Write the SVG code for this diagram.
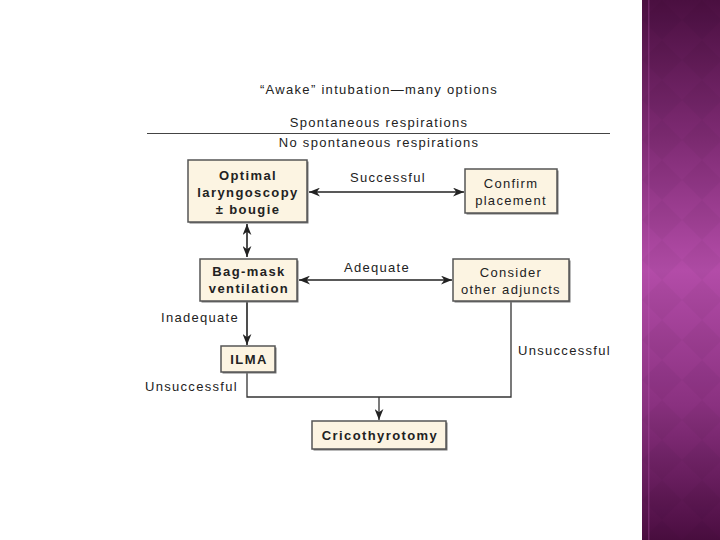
<svg xmlns="http://www.w3.org/2000/svg" width="720" height="540" viewBox="0 0 720 540">
  <defs>
    <linearGradient id="side" x1="0" y1="0" x2="0" y2="1">
      <stop offset="0" stop-color="#4a0f40"/>
      <stop offset="0.25" stop-color="#7d2a72"/>
      <stop offset="0.5" stop-color="#b34ca8"/>
      <stop offset="0.75" stop-color="#8a3180"/>
      <stop offset="1" stop-color="#4a0d40"/>
    </linearGradient>
    <pattern id="diam" width="40" height="40" patternUnits="userSpaceOnUse" x="642" y="0">
      <path d="M20,0 L40,20 L20,40 L0,20 Z" fill="#000" fill-opacity="0.03"/>
    </pattern>
    <marker id="ah" viewBox="0 0 10 8" refX="10" refY="4" markerWidth="11" markerHeight="9" markerUnits="userSpaceOnUse" orient="auto-start-reverse">
      <path d="M0,0 L10,4 L0,8 L3,4 Z" fill="#222"/>
    </marker>
    <style>
      text { font-family: "Liberation Sans", Arial, sans-serif; font-size: 13px; fill: #222; letter-spacing: 1.3px; }
      .c { text-anchor: middle; }
      .b { font-weight: bold; letter-spacing: 1.4px; }
      .box { fill: #fcf4e2; stroke: #555; stroke-width: 1.5; }
      .shadow { fill: #777; }
      .ln { stroke: #333; stroke-width: 1.3; fill: none; }
      .arr { stroke: #222; stroke-width: 1.6; fill: none; }
    </style>
  </defs>

  <rect width="720" height="540" fill="#ffffff"/>

  <g id="sidebar">
    <rect x="642" y="0" width="78" height="540" fill="url(#side)"/>
    <rect x="642" y="0" width="78" height="540" fill="url(#diam)"/>
    <rect x="648" y="0" width="1.5" height="540" fill="#c060b8" fill-opacity="0.3"/>
  </g>

  <g id="header">
    <text class="c" x="379" y="94">“Awake” intubation—many options</text>
    <text class="c" x="379" y="127">Spontaneous respirations</text>
    <line x1="147" y1="133.5" x2="610" y2="133.5" stroke="#444" stroke-width="1.2"/>
    <text class="c" x="379" y="147">No spontaneous respirations</text>
  </g>

  <g id="connectors">
    <line class="arr" x1="309" y1="192" x2="464" y2="192" marker-start="url(#ah)" marker-end="url(#ah)"/>
    <line class="arr" x1="247" y1="224" x2="247" y2="257" marker-start="url(#ah)" marker-end="url(#ah)"/>
    <line class="arr" x1="299" y1="280" x2="452" y2="280" marker-start="url(#ah)" marker-end="url(#ah)"/>
    <line class="arr" x1="247" y1="302" x2="247" y2="345" marker-end="url(#ah)"/>
    <polyline class="ln" points="247,373 247,397 511,397 511,302"/>
    <line class="ln" x1="379" y1="397" x2="379" y2="420" marker-end="url(#ah)"/>
    <text class="c" x="388" y="182">Successful</text>
    <text class="c" x="377" y="272">Adequate</text>
    <text x="161" y="322">Inadequate</text>
    <text x="145" y="391">Unsuccessful</text>
    <text x="518" y="355">Unsuccessful</text>
  </g>

  <g id="optimal">
    <rect class="shadow" x="189.5" y="161.5" width="119" height="62"/>
    <rect class="box" x="188" y="160" width="119" height="62"/>
    <text class="c b" x="248" y="180">Optimal</text>
    <text class="c b" x="248" y="197">laryngoscopy</text>
    <text class="c b" x="248" y="214">± bougie</text>
  </g>

  <g id="confirm">
    <rect class="shadow" x="466.5" y="170.5" width="92" height="44"/>
    <rect class="box" x="465" y="169" width="92" height="44"/>
    <text class="c" x="511" y="188">Confirm</text>
    <text class="c" x="511" y="205">placement</text>
  </g>

  <g id="bagmask">
    <rect class="shadow" x="201.5" y="260.5" width="97" height="42"/>
    <rect class="box" x="200" y="259" width="97" height="42"/>
    <text class="c b" x="249" y="276">Bag-mask</text>
    <text class="c b" x="249" y="293">ventilation</text>
  </g>

  <g id="consider">
    <rect class="shadow" x="454.5" y="260.5" width="116" height="42"/>
    <rect class="box" x="453" y="259" width="116" height="42"/>
    <text class="c" x="511" y="277">Consider</text>
    <text class="c" x="511" y="294">other adjuncts</text>
  </g>

  <g id="ilma">
    <rect class="shadow" x="222.5" y="347.5" width="54" height="26"/>
    <rect class="box" x="221" y="346" width="54" height="26"/>
    <text class="c b" x="249" y="364">ILMA</text>
  </g>

  <g id="crico">
    <rect class="shadow" x="313.5" y="422.5" width="134" height="28"/>
    <rect class="box" x="312" y="421" width="134" height="28"/>
    <text class="c b" x="380" y="440">Cricothyrotomy</text>
  </g>
</svg>
